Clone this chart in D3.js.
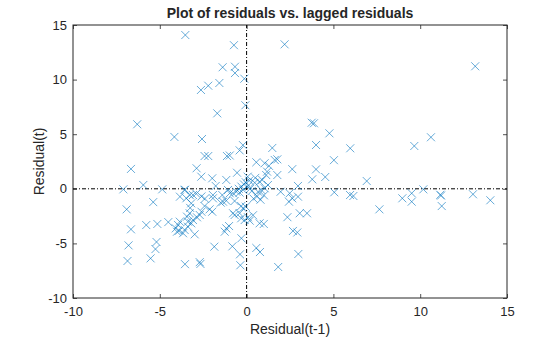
<!DOCTYPE html>
<html>
<head>
<meta charset="utf-8">
<script src="https://cdn.jsdelivr.net/npm/d3@7"></script>
<style>
  body { margin: 0; background: #fff; }
  svg text { font-family: "Liberation Sans", Arial, Helvetica, sans-serif; fill: #262626; }
</style>
</head>
<body>
<div id="chart"></div>
<script>
(function () {
    var width = 560,
        height = 337;

    // lagged residual pairs [Residual(t-1), Residual(t)]
    var lagged = [
        [-3.53, 14.08], [-0.73, 13.15], [2.19, 13.23], [-1.38, 11.13], [-0.67, 11.18], [-0.67, 10.6],
        [-0.13, 10.08], [-2.63, 9.05], [-2.21, 9.44], [-1.57, 9.69], [-0.07, 7.65], [-1.69, 6.91],
        [-6.30, 5.91], [-4.16, 4.75], [-2.57, 4.56], [-2.42, 3.0], [-2.21, 3.0], [-1.13, 3.0],
        [-0.97, 3.05], [-0.40, 3.52], [-0.21, 4.0], [13.17, 11.22]
    ];
    var rightUpper = [
        [3.75, 6.05], [3.88, 6.0], [4.77, 5.08], [4.0, 4.01], [5.97, 3.71], [9.66, 3.92], [10.62, 4.72],
        [5.03, 2.62], [1.48, 3.74], [0.56, 2.43], [1.04, 2.34], [1.29, 2.1], [1.62, 2.64], [1.77, 2.70],
        [2.63, 1.80], [4.0, 1.78], [3.78, 0.87], [4.53, 1.08], [1.77, 1.26], [1.18, 1.57], [1.13, 1.26],
        [0.9, 0.81], [0.75, 0.65], [0.47, 0.56], [1.23, 0.35], [1.04, 0.05], [0.85, -0.11], [0.66, -0.27],
        [1.96, -0.27], [2.96, 0.26], [2.48, -0.41], [2.63, -0.87], [2.96, -0.72], [6.92, 0.71]
    ];
    var rightLow = [
        [5.05, -0.32], [5.96, -0.57], [6.15, -0.66], [7.65, -1.88], [8.97, -0.87], [9.51, -0.41],
        [9.51, -1.18], [10.18, -0.05], [11.16, -0.55], [11.2, -0.62], [11.24, -1.58], [13.04, -0.5],
        [14.04, -1.05]
    ];
    var leftSide = [
        [-6.66, 1.82], [-5.95, 0.35], [-7.10, -0.05], [-4.86, -0.05], [-3.55, -0.08], [-2.88, 1.88],
        [-2.61, 1.11], [-1.98, 0.96], [-1.78, 0.26], [-1.17, 0.81], [-0.55, 1.47], [0.06, 1.11],
        [-6.91, -1.88], [-5.38, -1.22], [-6.66, -3.71], [-5.78, -3.32], [-5.14, -3.22], [-4.51, -3.05],
        [-6.80, -5.18], [-5.19, -4.87], [-5.25, -5.52], [-5.53, -6.37], [-6.86, -6.61], [-3.55, -6.9],
        [-2.70, -6.72], [-2.66, -6.88], [-1.86, -5.30], [-0.82, -5.27], [-0.38, -6.0], [-0.36, -7.0],
        [-0.30, -4.53], [0.56, -5.42], [0.77, -5.79], [1.82, -7.16], [2.98, -5.97], [2.67, -3.86],
        [2.92, -4.0], [3.06, -2.24], [3.48, -2.24], [2.35, -2.6], [0.75, -3.16], [0.99, -3.22],
        [0.37, -2.42], [2.44, -1.18]
    ];
    var cluster = [
        [-3.84, -0.72], [-3.57, -0.11], [-3.28, -0.57], [-3.09, -0.57], [-3.47, -0.87], [-2.9, -0.45],
        [-2.6, -0.7], [-2.4, -0.9], [-1.94, -0.57], [-1.94, -0.87], [-1.4, -0.57], [-1.07, -0.11],
        [-0.97, -0.41], [-0.78, -0.41], [-0.59, -0.27], [-0.45, 0.0], [-0.3, 0.2], [-0.15, 0.4],
        [-0.05, 0.6], [0.1, 0.3], [0.2, 0.0], [0.3, -0.2], [-0.2, -0.1], [-0.4, -0.35], [0.15, 0.75],
        [0.5, 1.0], [-3.19, -1.33], [-3.25, -1.75], [-2.42, -1.58], [-2.13, -1.88], [-1.98, -2.1],
        [-1.49, -1.27], [-1.36, -1.18], [-1.17, -1.09], [-0.69, -1.12], [-0.31, -1.58], [-0.21, -1.79],
        [-0.05, -1.64], [-0.4, -2.24], [-0.69, -2.4], [-0.78, -2.24], [-0.31, -2.7], [-0.11, -2.86],
        [0.08, -2.61], [0.18, -2.92], [-2.7, -2.4], [-2.86, -2.61], [-3.09, -2.86], [-3.38, -3.01],
        [-3.28, -2.24], [-3.43, -2.55], [-3.85, -3.01], [-3.95, -3.31], [-4.08, -3.62], [-3.89, -3.84],
        [-3.66, -4.07], [-4.01, -3.93], [-3.57, -3.77], [-3.38, -3.47], [-3.19, -3.16], [-2.99, -4.17],
        [-1.17, -3.62], [-1.01, -3.41], [-1.26, -3.93], [-2.6, -2.1], [0.6, -0.7], [0.8, -1.0],
        [0.4, -0.9], [1.0, -0.6]
    ];
    var xTicks = [-10, -5, 0, 5, 10, 15],
        yTicks = [-10, -5, 0, 5, 10, 15];

    var datapoints = lagged.concat(rightUpper, rightLow, leftSide, cluster);

    var margin = {left: 73, right: 53, top: 25, bottom: 39};
    var x = d3.scaleLinear().domain([-10, 15]).range([margin.left, width - margin.right]);
    var y = d3.scaleLinear().domain([-10, 15]).range([height - margin.bottom, margin.top]);

    var svg = d3.select("#chart")
        .append("svg")
        .attr("width", width)
        .attr("height", height);

    // plain hyphen minus like the original, not d3's unicode minus
    var fmt = function (d) { return String(d); };

    // axes with inward ticks on all four sides (matlab style box)
    var axisCol = "#262626";
    function styleAxis(g) {
        g.select(".domain").remove();
        g.selectAll(".tick line").attr("stroke", axisCol).attr("stroke-width", 0.8);
        g.selectAll(".tick text").style("font-size", "13px").attr("fill", axisCol);
    }
    svg.append("g")
        .attr("transform", "translate(0," + y(-10) + ")")
        .call(d3.axisBottom(x).tickValues(xTicks).tickFormat(fmt).tickSizeInner(-4).tickSizeOuter(0).tickPadding(9))
        .call(styleAxis);
    svg.append("g")
        .attr("transform", "translate(0," + y(15) + ")")
        .call(d3.axisTop(x).tickValues(xTicks).tickSizeInner(-4).tickSizeOuter(0).tickFormat(""))
        .call(styleAxis);
    svg.append("g")
        .attr("transform", "translate(" + x(-10) + ",0)")
        .call(d3.axisLeft(y).tickValues(yTicks).tickFormat(fmt).tickSizeInner(-4).tickSizeOuter(0).tickPadding(6))
        .call(styleAxis);
    svg.append("g")
        .attr("transform", "translate(" + x(15) + ",0)")
        .call(d3.axisRight(y).tickValues(yTicks).tickSizeInner(-4).tickSizeOuter(0).tickFormat(""))
        .call(styleAxis);

    svg.append("rect")
        .attr("x", x(-10))
        .attr("y", y(15))
        .attr("width", x(15) - x(-10))
        .attr("height", y(-10) - y(15))
        .attr("fill", "none")
        .attr("stroke", axisCol)
        .attr("stroke-width", 1);

    // zero reference lines (dash-dot)
    svg.append("line")
        .attr("x1", x(-10)).attr("x2", x(15))
        .attr("y1", y(0)).attr("y2", y(0))
        .attr("stroke", "#000").attr("stroke-width", 1)
        .attr("stroke-dasharray", "4,2,1,2");
    svg.append("line")
        .attr("x1", x(0)).attr("x2", x(0))
        .attr("y1", y(-10)).attr("y2", y(15))
        .attr("stroke", "#000").attr("stroke-width", 1)
        .attr("stroke-dasharray", "4,2,1,2");

    // x markers
    var s = 4;
    svg.selectAll(".pt")
        .data(datapoints)
        .enter().append("path")
        .attr("class", "pt")
        .attr("d", function (d) {
            var cx = x(d[0]), cy = y(d[1]);
            return "M" + (cx - s) + "," + (cy - s) + "L" + (cx + s) + "," + (cy + s) +
                "M" + (cx - s) + "," + (cy + s) + "L" + (cx + s) + "," + (cy - s);
        })
        .attr("stroke", "#0072BD")
        .attr("stroke-width", 0.6)
        .attr("fill", "none");

    // labels
    svg.append("text")
        .attr("x", (x(-10) + x(15)) / 2)
        .attr("y", 18)
        .attr("text-anchor", "middle")
        .style("font-size", "14px")
        .style("font-weight", "bold")
        .attr("fill", "#000")
        .text("Plot of residuals vs. lagged residuals");
    svg.append("text")
        .attr("x", (x(-10) + x(15)) / 2)
        .attr("y", 334)
        .attr("text-anchor", "middle")
        .style("font-size", "14px")
        .text("Residual(t-1)");
    svg.append("text")
        .attr("transform", "translate(44," + ((y(-10) + y(15)) / 2) + ") rotate(-90)")
        .attr("text-anchor", "middle")
        .style("font-size", "14px")
        .text("Residual(t)");
})();
</script>
</body>
</html>
